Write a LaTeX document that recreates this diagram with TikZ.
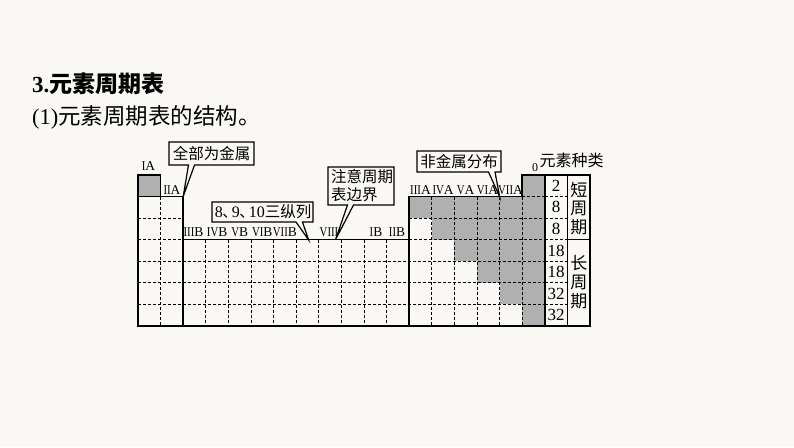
\documentclass[tikz,border=0pt]{standalone}
\usepackage{fontspec}
\usepackage{graphicx}
\setmainfont{Liberation Serif}
\newfontfamily\cjk{Noto Sans CJK SC}
\definecolor{bg}{RGB}{251,249,246}
\definecolor{cg}{RGB}{176,176,176}
\newcommand\rmn[1]{\scalebox{0.8}[1]{#1}}
\newcommand\dun{{\cjk\fontsize{15}{18}\selectfont\makebox[9pt][l]{\kern-0.5pt 、}}}
\begin{document}
\begin{tikzpicture}[x=1pt,y=-1pt,
  solidline/.style={line width=1.5pt, line join=miter},
  dashline/.style={line width=0.8pt, dash pattern=on 3pt off 2pt},
  grp/.style={font=\fontsize{13.5}{14}\selectfont, inner sep=0pt},
  calloutbox/.style={draw, line width=1.2pt, fill=bg, line join=miter},
  ctext/.style={font=\cjk\fontsize{15.5}{18}\selectfont, inner sep=0pt, align=left},
  cnt/.style={font=\fontsize{17}{17}\selectfont, inner sep=0pt},
  kind/.style={font=\cjk\fontsize{17}{17}\selectfont, inner sep=0pt},
]
\fill[bg] (0,0) rectangle (794,447);
\useasboundingbox (0,0) rectangle (794,447);

% grid coordinates
\foreach \i in {0,...,18} { \coordinate (x\i) at ({138+22.6*\i},0); }
\foreach \j in {0,...,7} { \coordinate (y\j) at (0,{175+21.571*\j}); }
\coordinate (xc) at (567.5,0);
\coordinate (xl) at (590,0);

% gray cells
\fill[cg] (x0|-y0) rectangle (x1|-y1);
\fill[cg] (x17|-y0) rectangle (x18|-y7);
\fill[cg] (x12|-y1) rectangle (x17|-y2);
\fill[cg] (x13|-y2) rectangle (x17|-y3);
\fill[cg] (x14|-y3) rectangle (x17|-y4);
\fill[cg] (x15|-y4) rectangle (x17|-y5);
\fill[cg] (x16|-y5) rectangle (x17|-y6);

% dashed grid
\foreach \j in {2,3} {
  \draw[dashline] (x0|-y\j) -- (x2|-y\j);
  \draw[dashline] (x12|-y\j) -- (x18|-y\j);
}
\foreach \j in {4,5,6} { \draw[dashline] (x0|-y\j) -- (x18|-y\j); }
\draw[dashline] (x17|-y1) -- (x18|-y1);
\draw[dashline] (x1|-y1) -- (x1|-y7);
\foreach \i in {3,...,11} { \draw[dashline] (x\i|-y3) -- (x\i|-y7); }
\foreach \i in {13,...,17} { \draw[dashline] (x\i|-y1) -- (x\i|-y7); }
\foreach \j in {1,...,6} { \draw[dashline] (x18|-y\j) -- (xc|-y\j); }

% solid outline
\draw[solidline] (x0|-y7) -- (x0|-y0) -- (x1|-y0) -- (x1|-y1) -- (x2|-y1) -- (x2|-y3)
  -- (x12|-y3) -- (x12|-y1) -- (x17|-y1) -- (x17|-y0) -- (x18|-y0) -- (x18|-y7) -- cycle;
\draw[solidline] (x0|-y1) -- (x1|-y1);
\draw[solidline] (x2|-y3) -- (x2|-y7);
\draw[solidline] (x12|-y3) -- (x12|-y7);
\draw[solidline] (x18|-y0) rectangle (xl|-y7);
\draw[solidline] (xc|-y0) -- (xc|-y7);
\draw[solidline] (xc|-y3) -- (xl|-y3);

% group labels
\node[grp] (gIA) at (148.5,166) {\rmn{I}A};
\node[grp] (gIIA) at (172,190.5) {\rmn{II}A};
\node[grp] (gIIIB) at (193.5,232) {\rmn{III}B};
\node[grp] (gIVB) at (217.1,232) {\rmn{IV}B};
\node[grp] (gVB) at (239.7,232) {\rmn{V}B};
\node[grp] (gVIB) at (262.3,232) {\rmn{VI}B};
\node[grp] (gVIIB) at (284.9,232) {\rmn{VII}B};
\node[grp] (gVIII) at (329,232) {\rmn{VIII}};
\node[grp] (gIB) at (376,232) {\rmn{I}B};
\node[grp] (gIIB) at (397,232) {\rmn{II}B};
\node[grp] (gIIIA) at (420.5,190.5) {\rmn{III}A};
\node[grp] (gIVA) at (443.1,190.5) {\rmn{IV}A};
\node[grp] (gVA) at (465.7,190.5) {\rmn{V}A};
\node[grp] (gVIA) at (487.5,190.5) {\rmn{VI}A};
\node[grp] (gVIIA) at (510.5,190.5) {\rmn{VII}A};
\node[font=\fontsize{12}{12}\selectfont, inner sep=0pt] (g0) at (535,167.5) {0};
\node[font=\cjk\fontsize{16}{16}\selectfont, inner sep=0pt] (kinds) at (571.5,160.5) {元素种类};

% counts
\foreach \n/\j in {2/1,8/2,8/3,18/4,18/5,32/6,32/7} {
  \node[cnt] (n\j) at ({556.2},{175+21.571*(\j-0.5)}) {\n};
}
\node[kind] (s1) at (578.8,190) {短};
\node[kind] (s2) at (578.8,208.5) {周};
\node[kind] (s3) at (578.8,227) {期};
\node[kind] (l1) at (578.8,263.5) {长};
\node[kind] (l2) at (578.8,282) {周};
\node[kind] (l3) at (578.8,300.7) {期};

% callouts
\draw[calloutbox] (169,142) -- (254,142) -- (254,165) -- (194.5,165) -- (x2|-y1) -- (188.5,165) -- (169,165) -- cycle;
\node[ctext] (c1) at (211.5,153.5) {全部为金属};

\draw[calloutbox] (212,202) -- (313,202) -- (313,222) -- (302.5,222) -- (308.5,239.7) -- (296,222) -- (212,222) -- cycle;
\node[ctext, font=\fontsize{16}{18}\selectfont] (c2) at (263,212) {8\dun 9\dun 10{\cjk\fontsize{15.5}{18}\selectfont 三纵列}};

\draw[calloutbox] (328,167) -- (394,167) -- (394,205) -- (353.5,205) -- (335.5,239.7) -- (347.5,205) -- (328,205) -- cycle;
\node[ctext, anchor=west] (c3) at (331,186) {注意周期\\表边界};

\draw[calloutbox] (417,151) -- (501,151) -- (501,172) -- (495,172) -- (x16|-y1) -- (488.5,172) -- (417,172) -- cycle;
\node[ctext] (c4) at (459,161.5) {非金属分布};

% headings
\node[anchor=west, inner sep=0pt, font=\fontsize{23}{23}\selectfont] (h1) at (32,84) {\textbf{3.}{\cjk\bfseries 元素周期表}};
\node[anchor=west, inner sep=0pt, font=\fontsize{22.5}{23}\selectfont] (h2) at (32,117) {(1){\cjk 元素周期表的结构。}};
\end{tikzpicture}
\end{document}
